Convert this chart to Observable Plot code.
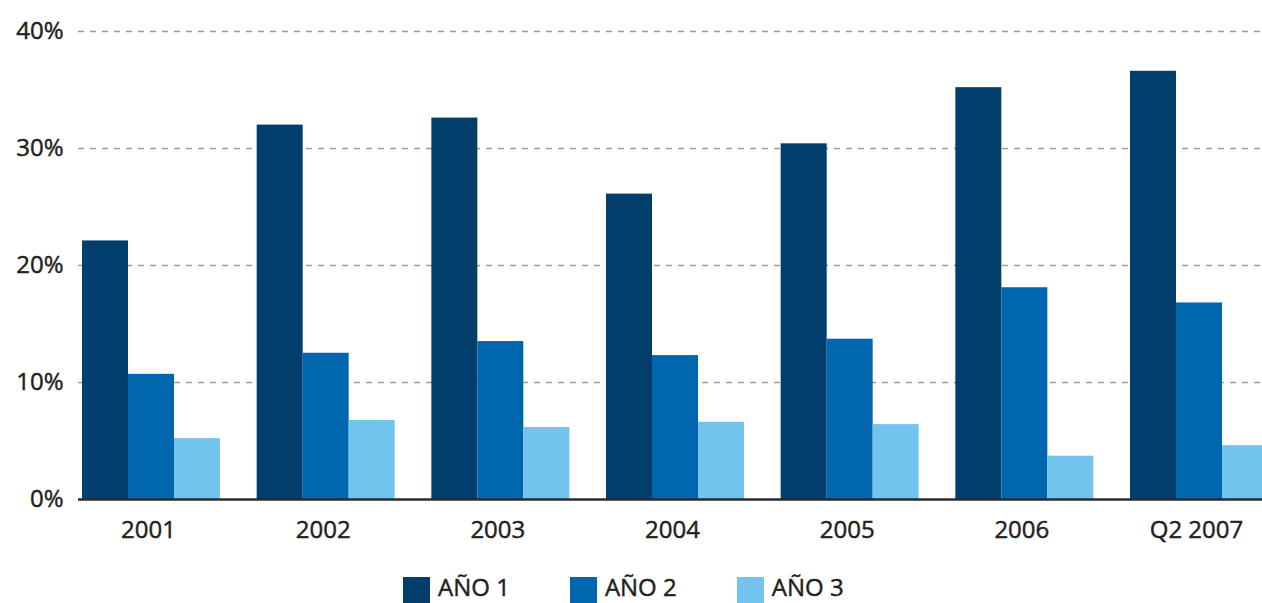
<!DOCTYPE html>
<html>
<head>
<meta charset="utf-8">
<script src="https://cdn.jsdelivr.net/npm/d3@7"></script>
<script src="https://cdn.jsdelivr.net/npm/@observablehq/plot@0.6"></script>
<style>
  html, body { margin: 0; padding: 0; background: #fff; overflow: hidden; }
  #wrap { width: 1262px; height: 603px; overflow: hidden; }
  #chart svg { max-width: none !important; display: block; }
  /* slightly heavier axis lettering */
  #chart svg text { stroke: #231f20; stroke-width: 0.45px; }
  .legend { display: flex; align-items: flex-end; height: 26px; margin-top: 22px; margin-left: 403px;
            font-family: "Open Sans", "Noto Sans", sans-serif; font-size: 24px;
            color: #231f20; -webkit-text-stroke: 0.45px #231f20; }
  .legend .item { display: flex; align-items: flex-end; height: 26px; }
  .legend .sw { width: 27px; height: 26px; margin-right: 8px; flex: none; }
  .legend .lbl { display: inline-block; line-height: normal; white-space: nowrap; }
</style>
</head>
<body>
<div id="wrap">
  <div id="chart"></div>
  <div class="legend" id="legend"></div>
</div>
<script>
// Periods shown on the horizontal axis
const periods = ["2001", "2002", "2003", "2004", "2005", "2006", "Q2 2007"];
// Series names and colours
const seriesNames = ["AÑO 1", "AÑO 2", "AÑO 3"];
const seriesColors = ["#023e6b", "#0066ae", "#72c4ee"];
// Percentages per series, one value per period
const ano1 = [22.1, 32.0, 32.6, 26.1, 30.4, 35.2, 36.6];
const ano2 = [10.7, 12.5, 13.5, 12.3, 13.7, 18.1, 16.8];
const ano3 = [5.2, 6.75, 6.15, 6.6, 6.4, 3.7, 4.6];
// Y-axis ticks
const yTicks = [0, 10, 20, 30, 40];

const seriesValues = [ano1, ano2, ano3];

const W = 1272, H = 555;
const margin = {left: 78, right: 0, top: 31, bottom: 56};
const padInner = 0.21, padOuter = 0.023;

// Width of one period band, so the three series can sit side by side inside it
const bandwidth = d3.scaleBand()
  .domain(periods)
  .range([margin.left, W - margin.right])
  .paddingInner(padInner)
  .paddingOuter(padOuter)
  .bandwidth();
const slot = bandwidth / seriesNames.length;

const font = `"Open Sans", "Noto Sans", sans-serif`;

const chart = Plot.plot({
  width: W,
  height: H,
  marginLeft: margin.left,
  marginRight: margin.right,
  marginTop: margin.top,
  marginBottom: margin.bottom,
  style: {fontFamily: font, fontSize: "24px", color: "#231f20", background: "#fff"},
  x: {domain: periods, paddingInner: padInner, paddingOuter: padOuter, round: false, label: null},
  y: {domain: [0, 40], label: null},
  marks: [
    Plot.ruleY(yTicks.filter(d => d > 0), {
      stroke: "#9a9a9a", strokeWidth: 1.5, strokeDasharray: "6,6"
    }),
    ...seriesNames.map((s, j) =>
      Plot.barY(periods, {
        x: d => d,
        y: (d, i) => seriesValues[j][i],
        fill: seriesColors[j],
        insetLeft: j * slot,
        insetRight: (seriesNames.length - 1 - j) * slot
      })
    ),
    Plot.ruleY([0], {stroke: "#2b2b2b", strokeWidth: 2.5}),
    Plot.axisY({
      ticks: yTicks, tickSize: 0, tickPadding: 15, tickFormat: d => `${d}%`,
      label: null, fontSize: 24, fill: "#231f20"
    }),
    Plot.axisX({
      anchor: "bottom", tickSize: 0, tickPadding: 21, label: null, dx: -3,
      fontSize: 24, fill: "#231f20"
    })
  ]
});
document.getElementById("chart").appendChild(chart);

// Legend row below the chart
const legend = document.getElementById("legend");
seriesNames.forEach((s, j) => {
  const item = document.createElement("div");
  item.className = "item";
  item.style.marginRight = j < seriesNames.length - 1 ? "60px" : "0";
  const sw = document.createElement("span");
  sw.className = "sw";
  sw.style.background = seriesColors[j];
  const label = document.createElement("span");
  label.className = "lbl";
  label.textContent = s;
  item.appendChild(sw);
  item.appendChild(label);
  legend.appendChild(item);
});
</script>
</body>
</html>
